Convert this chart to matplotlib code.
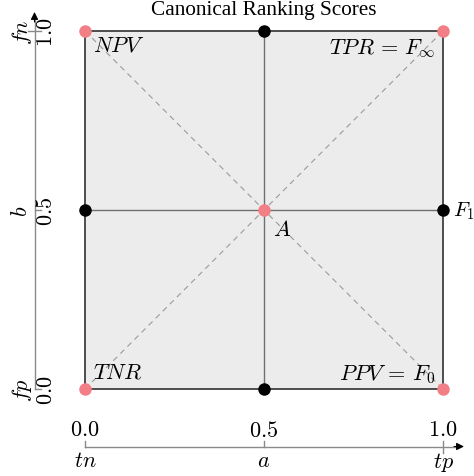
import matplotlib
matplotlib.use("Agg")
import matplotlib.pyplot as plt
from matplotlib.patches import Rectangle

plt.rcParams['mathtext.fontset'] = 'cm'
plt.rcParams['font.family'] = ['Liberation Serif', 'DejaVu Serif']

# axis ticks and names
ticks = [0.0, 0.5, 1.0]
tick_labels = ['$0.0$', '$0.5$', '$1.0$']
x_names = ['$tn$', '$a$', '$tp$']
y_names = ['$fp$', '$b$', '$fn$']

# canonical scores: extreme points (pink) and mid points (black)
extreme_x = [0.0, 1.0, 0.0, 1.0, 0.5]
extreme_y = [0.0, 0.0, 1.0, 1.0, 0.5]
mid_x = [0.5, 0.5, 0.0, 1.0]
mid_y = [0.0, 1.0, 0.5, 0.5]

score_names = ['$NPV$', '$TPR\\,=\\,F_\\infty$', '$TNR$', '$PPV\\,=\\,F_0$', '$A$', '$F_1$']

title = 'Canonical Ranking Scores'

W, H = 474, 477
fig = plt.figure(figsize=(W / 100, H / 100), dpi=100)
ax = fig.add_axes([85 / W, 87 / H, 358 / W, 358 / H])
ax.set_xlim(0, 1)
ax.set_ylim(0, 1)
ax.axis('off')

px = 1 / 358.0  # one pixel in data units
fs = 16

# shaded square
ax.add_patch(Rectangle((0, 0), 1, 1, facecolor='#ececec', edgecolor='none', zorder=0))
# diagonals
ax.plot([0, 1], [0, 1], ls=(0, (5, 4)), color='#9a9a9a', lw=0.8, zorder=1)
ax.plot([0, 1], [1, 0], ls=(0, (5, 4)), color='#9a9a9a', lw=0.8, zorder=1)
# inner cross
ax.plot([0.5, 0.5], [0, 1], color='#707070', lw=1.0, zorder=2)
ax.plot([0, 1], [0.5, 0.5], color='#707070', lw=1.0, zorder=2)
# border
ax.plot([0, 1, 1, 0, 0], [0, 0, 1, 1, 0], color='#404040', lw=1.3, zorder=3,
        clip_on=False, solid_joinstyle='miter')

ax.plot(extreme_x, extreme_y, 'o', color='#f27f85', ms=9, mec='none', zorder=5, clip_on=False)
ax.plot(mid_x, mid_y, 'o', color='black', ms=9, mec='none', zorder=5, clip_on=False)

# score labels
ax.text(0.022, 0.985, score_names[0], ha='left', va='top', fontsize=fs)
ax.text(0.98, 0.985, score_names[1], ha='right', va='top', fontsize=fs)
ax.text(0.022, 0.018, score_names[2], ha='left', va='bottom', fontsize=fs)
ax.text(0.98, 0.01, score_names[3], ha='right', va='bottom', fontsize=fs)
ax.text(0.525, 0.472, score_names[4], ha='left', va='top', fontsize=fs)
ax.text(1.028, 0.5, score_names[5], ha='left', va='center', fontsize=15)

# left axis
xa = (34.5 - 85) * px
ytop = (390 - 13) * px
ax.plot([xa, xa], [0, ytop - 6 * px], color='#8a8a8a', lw=1.0, clip_on=False)
ax.annotate('', xy=(xa, ytop), xytext=(xa, ytop - 10 * px),
            arrowprops=dict(arrowstyle='-|>', color='black', lw=0.8, mutation_scale=11,
                            shrinkA=0, shrinkB=0), annotation_clip=False)
for t, lab, name in zip(ticks, tick_labels, y_names):
    x0 = xa - 6 * px if t == 1.0 else xa
    ax.plot([x0, xa + 6 * px], [t, t], color='#8a8a8a', lw=1.0, clip_on=False)
    ax.text((47.5 - 85) * px, t, lab, rotation=90, ha='center', va='center', fontsize=fs)
    ax.text((22 - 85) * px, t, name, rotation=90, ha='center', va='center', fontsize=fs)

# bottom axis
ya = (390 - 447.5) * px
xright = (464 - 85) * px
ax.plot([0, xright - 6 * px], [ya, ya], color='#8a8a8a', lw=1.0, clip_on=False)
ax.annotate('', xy=(xright, ya), xytext=(xright - 10 * px, ya),
            arrowprops=dict(arrowstyle='-|>', color='black', lw=0.8, mutation_scale=11,
                            shrinkA=0, shrinkB=0), annotation_clip=False)
for t, lab, name in zip(ticks, tick_labels, x_names):
    y0 = ya - 6 * px if t == 1.0 else ya
    ax.plot([t, t], [y0, ya + 6 * px], color='#8a8a8a', lw=1.0, clip_on=False)
    ax.text(t, (390 - 432) * px, lab, ha='center', va='center', fontsize=fs)
    ax.text(t, (390 - 463) * px, name, ha='center', va='center', fontsize=fs)

fig.text(264 / W, 1 - 15 / H, title, ha='center', va='baseline', fontsize=15.3,
         family=['Liberation Serif', 'DejaVu Serif'])

fig.savefig('out.png', dpi=100)
